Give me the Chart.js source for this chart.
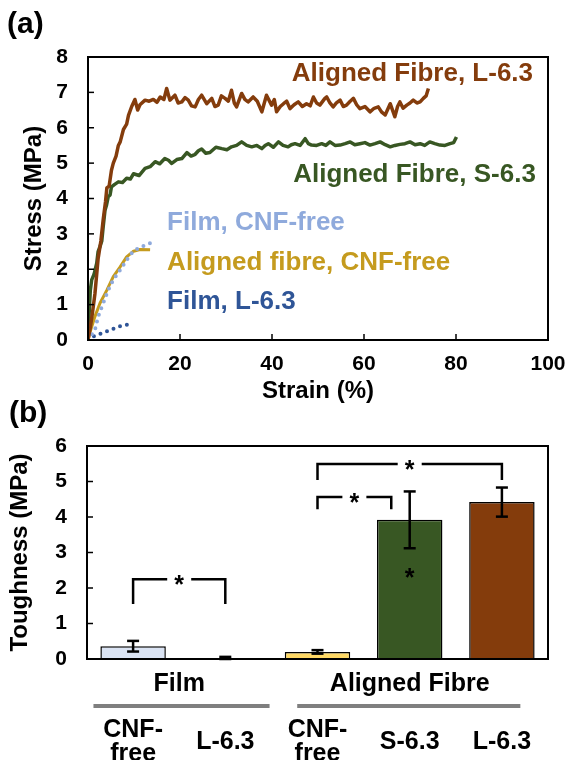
<!DOCTYPE html>
<html lang="en">
<head>
<meta charset="UTF-8">
<title>Stress-strain and toughness</title>
<script src="https://cdn.jsdelivr.net/npm/chart.js"></script>
<style>
    body { margin: 0; background: #fff; width: 569px; height: 760px; overflow: hidden; position: relative; font-family: 'Liberation Sans', Arial, sans-serif; }
    .panel { position: absolute; left: 0; width: 569px; }
    #boxA { top: 0; height: 410px; }
    #boxB { top: 380px; height: 380px; }
    .tag { position: absolute; font-weight: bold; font-size: 30px; line-height: 30px; }
</style>
</head>
<body>
<div class="panel" id="boxA"><canvas id="chartA"></canvas></div>
<div class="panel" id="boxB"><canvas id="chartB"></canvas></div>
<div class="tag" style="left:7px; top:8px;">(a)</div>
<div class="tag" style="left:9px; top:397px;">(b)</div>

<script>
// (a) stress-strain curves, strain in %, stress in MPa
const fibreL63Strain = [0, 0.5, 1.0, 1.5, 2.2, 2.8, 3.3, 3.8, 4.1, 4.6, 5.1, 5.5, 6.1, 6.6, 7.0, 7.7, 8.4, 8.8, 9.5, 10.2, 10.8, 11.3, 12.4, 13.3, 14.2, 15.0, 15.7, 16.5, 17.1, 17.8, 18.9, 19.6, 20.4, 21.1, 21.8, 22.5, 23.3, 24.0, 24.7, 25.8, 26.9, 27.6, 28.3, 29.0, 29.8, 30.5, 31.2, 31.8, 32.3, 33.4, 34.1, 34.8, 35.9, 36.8, 37.8, 38.8, 39.9, 40.5, 41.0, 41.8, 42.5, 43.2, 43.9, 44.8, 45.7, 46.6, 47.5, 48.3, 49.0, 49.7, 50.4, 51.5, 51.9, 52.6, 53.3, 54.0, 54.8, 55.5, 56.2, 57.0, 57.7, 58.4, 59.1, 60.2, 61.3, 62.2, 63.1, 63.8, 64.6, 65.7, 66.2, 66.7, 67.3, 67.8, 68.5, 69.3, 70.0, 70.7, 71.5, 72.2, 72.9, 73.5, 74.0];
const fibreL63Stress = [0, 0.35, 0.8, 1.3, 2.3, 2.8, 3.4, 3.9, 4.3, 4.35, 4.8, 5.0, 5.2, 5.5, 5.6, 5.95, 6.1, 6.35, 6.6, 6.8, 6.5, 6.65, 6.78, 6.75, 6.8, 6.72, 6.87, 6.8, 7.11, 6.78, 6.92, 6.7, 6.73, 6.85, 6.78, 6.62, 6.59, 6.8, 6.92, 6.68, 6.83, 6.6, 6.64, 6.9, 6.83, 6.75, 7.06, 6.7, 6.59, 6.97, 6.8, 6.73, 6.87, 6.75, 6.45, 6.92, 6.64, 6.8, 6.45, 6.6, 6.68, 6.75, 6.54, 6.65, 6.73, 6.6, 6.68, 6.62, 6.87, 6.7, 6.64, 6.83, 6.87, 6.7, 6.59, 6.7, 6.78, 6.6, 6.64, 6.75, 6.83, 6.65, 6.54, 6.6, 6.45, 6.55, 6.59, 6.45, 6.36, 6.68, 6.5, 6.31, 6.6, 6.73, 6.55, 6.64, 6.7, 6.78, 6.7, 6.73, 6.83, 6.9, 7.11];

const fibreS63Strain = [0, 0.3, 0.5, 0.8, 1.3, 1.9, 2.2, 2.6, 3.0, 3.3, 3.7, 4.0, 4.4, 4.8, 5.1, 5.8, 6.6, 7.5, 8.4, 9.2, 9.9, 11.1, 12.4, 13.5, 14.6, 15.6, 16.7, 17.5, 18.2, 19.3, 20.4, 21.5, 22.4, 23.3, 24.0, 24.7, 25.6, 26.5, 27.8, 29.1, 30.2, 31.2, 32.3, 33.4, 34.5, 35.6, 36.7, 37.8, 38.5, 39.2, 40.3, 41.4, 42.4, 43.5, 44.2, 45.0, 46.1, 47.2, 47.9, 48.6, 49.7, 50.8, 51.7, 52.6, 53.7, 54.8, 55.9, 57.0, 58.0, 59.1, 60.2, 61.3, 62.4, 63.5, 64.6, 65.7, 66.7, 67.8, 68.9, 70.0, 71.1, 72.2, 73.2, 74.3, 75.4, 76.5, 77.6, 78.7, 79.5, 80.1];
const fibreS63Stress = [0, 0.9, 1.4, 1.7, 1.85, 2.17, 2.5, 2.64, 2.8, 3.2, 3.67, 3.8, 4.05, 4.1, 4.33, 4.4, 4.47, 4.45, 4.57, 4.55, 4.7, 4.65, 4.85, 4.9, 5.04, 4.98, 5.13, 5.08, 4.99, 5.1, 5.13, 5.3, 5.2, 5.25, 5.35, 5.4, 5.28, 5.3, 5.45, 5.41, 5.38, 5.46, 5.5, 5.6, 5.5, 5.46, 5.5, 5.41, 5.5, 5.55, 5.45, 5.6, 5.5, 5.46, 5.52, 5.55, 5.5, 5.69, 5.55, 5.51, 5.5, 5.55, 5.5, 5.6, 5.5, 5.51, 5.55, 5.6, 5.52, 5.55, 5.58, 5.51, 5.55, 5.6, 5.52, 5.46, 5.5, 5.53, 5.55, 5.6, 5.52, 5.55, 5.5, 5.6, 5.55, 5.51, 5.5, 5.55, 5.58, 5.74];

const filmFreeStrain = [0, 1.5, 2.2, 3.3, 4.4, 5.5, 7.0, 8.4, 9.5, 10.6, 12.4, 13.8];
const filmFreeStress = [0, 0.28, 0.66, 1.04, 1.41, 1.7, 1.98, 2.26, 2.45, 2.57, 2.68, 2.75];

const fibreFreeStrain = [0, 0.4, 1.5, 2.6, 4.1, 5.5, 7.0, 8.4, 9.9, 11.3, 13.5];
const fibreFreeStress = [0, 0.2, 0.66, 1.04, 1.41, 1.79, 2.07, 2.35, 2.51, 2.56, 2.55];

const filmL63Strain = [0, 1.2, 3.0, 4.8, 6.6, 9.1];
const filmL63Stress = [0, 0.1, 0.19, 0.28, 0.38, 0.45];

const curveNames = ['Aligned Fibre, L-6.3', 'Aligned Fibre, S-6.3', 'Film, CNF-free', 'Aligned fibre, CNF-free', 'Film, L-6.3'];
// where each curve name sits, in strain / stress units
const nameStrain = [44.3, 44.6, 17.2, 17.2, 17.2];
const nameStress = [7.52, 4.66, 3.3, 2.18, 1.08];

// (b) toughness bars
const barLabels = [['CNF-', 'free'], 'L-6.3', ['CNF-', 'free'], 'S-6.3', 'L-6.3'];
const toughness = [0.36, 0.03, 0.2, 3.92, 4.42];
const toughnessErr = [0.15, 0.03, 0.05, 0.8, 0.41];
const groupNames = ['Film', 'Aligned Fibre'];
const groupFirst = [0, 2];
const groupLast = [1, 4];

// significance brackets: category span, top and leg end in MPa
const sigFrom = [0, 2, 2];
const sigTo = [1, 2.8, 4];
const sigTop = [2.25, 4.56, 5.49];
const sigLeg = [1.55, 4.22, 5.04];
const starAt = [3, 2.45]; // extra star inside S-6.3 bar

const FONT = "'Liberation Sans', Arial, sans-serif";
Chart.defaults.font.family = FONT;
Chart.defaults.color = '#000';

const colBrown = '#843c0c';
const colGreen = '#385723';
const colLightBlue = '#8faadc';
const colGold = '#c59b1e';
const colBlue = '#2f5597';

function pts(xs, ys) {
    return xs.map((x, i) => ({ x: x, y: ys[i] }));
}

function line(ctx, x1, y1, x2, y2) {
    ctx.beginPath();
    ctx.moveTo(x1, y1);
    ctx.lineTo(x2, y2);
    ctx.stroke();
}

// box around plot + inward tick marks
const framePlugin = {
    id: 'frame',
    afterDraw(chart) {
        const { ctx, chartArea: a, scales } = chart;
        ctx.save();
        ctx.strokeStyle = '#000';
        ctx.lineWidth = 1.5;
        scales.y.ticks.forEach(t => {
            const p = scales.y.getPixelForValue(t.value);
            line(ctx, a.left, p, a.left + 6, p);
        });
        if (scales.x.type === 'linear') {
            scales.x.ticks.forEach(t => {
                const p = scales.x.getPixelForValue(t.value);
                line(ctx, p, a.bottom, p, a.bottom - 6);
            });
        }
        ctx.lineWidth = 2;
        ctx.strokeRect(a.left, a.top, a.right - a.left, a.bottom - a.top);
        ctx.restore();
    }
};

const curveLabelPlugin = {
    id: 'curveLabels',
    afterDraw(chart) {
        const { ctx, scales } = chart;
        ctx.save();
        ctx.font = 'bold 26px ' + FONT;
        ctx.textAlign = 'left';
        ctx.textBaseline = 'middle';
        curveNames.forEach((name, i) => {
            ctx.fillStyle = chart.data.datasets[i].borderColor;
            ctx.fillText(name, scales.x.getPixelForValue(nameStrain[i]), scales.y.getPixelForValue(nameStress[i]));
        });
        ctx.restore();
    }
};

// keep the plot area fixed: no extra room for the outer tick labels
function fixX(h) {
    return function (s) { s.height = h; s.paddingLeft = 0; s.paddingRight = 0; };
}
function fixY(w) {
    return function (s) { s.width = w; s.paddingTop = 0; s.paddingBottom = 0; };
}

const chartA = new Chart(document.getElementById('chartA'), {
    type: 'line',
    data: {
        datasets: [
            { data: pts(fibreL63Strain, fibreL63Stress), borderColor: colBrown, borderWidth: 3.5 },
            { data: pts(fibreS63Strain, fibreS63Stress), borderColor: colGreen, borderWidth: 3.5 },
            { data: pts(filmFreeStrain, filmFreeStress), borderColor: colLightBlue, borderWidth: 4, borderDash: [0, 7], borderCapStyle: 'round' },
            { data: pts(fibreFreeStrain, fibreFreeStress), borderColor: colGold, borderWidth: 3 },
            { data: pts(filmL63Strain, filmL63Stress), borderColor: colBlue, borderWidth: 4, borderDash: [0, 7], borderCapStyle: 'round' }
        ]
    },
    options: {
        responsive: true,
        maintainAspectRatio: false,
        animation: false,
        layout: { padding: { left: 0, right: 21, top: 57, bottom: 0 } },
        elements: { point: { radius: 0 }, line: { tension: 0, borderJoinStyle: 'round' } },
        plugins: { legend: { display: false }, tooltip: { enabled: false } },
        scales: {
            x: {
                type: 'linear', min: 0, max: 100,
                grid: { display: false, drawTicks: false },
                border: { display: false },
                ticks: { stepSize: 20, padding: 12, font: { size: 21, weight: 'bold' }, maxRotation: 0 },
                title: { display: true, text: 'Strain (%)', font: { size: 24, weight: 'bold' }, padding: { top: 0, bottom: 4 } },
                afterFit: fixX(70)
            },
            y: {
                min: 0, max: 8,
                grid: { display: false, drawTicks: false },
                border: { display: false },
                ticks: { stepSize: 1, padding: 20, font: { size: 21, weight: 'bold' } },
                title: { display: true, text: 'Stress (MPa)', font: { size: 24, weight: 'bold' }, padding: { top: 20, bottom: 0 } },
                afterFit: fixY(88)
            }
        }
    },
    plugins: [framePlugin, curveLabelPlugin]
});

// error bars, brackets, stars and group labels for (b)
const extrasPlugin = {
    id: 'extras',
    afterDatasetsDraw(chart) {
        const { ctx, scales, chartArea: a } = chart;
        const x = scales.x, y = scales.y;
        ctx.save();
        ctx.strokeStyle = '#000';
        ctx.lineWidth = 2.5;
        toughness.forEach((v, i) => {
            const px = x.getPixelForValue(i);
            const hi = y.getPixelForValue(v + toughnessErr[i]);
            const lo = y.getPixelForValue(Math.max(0, v - toughnessErr[i]));
            line(ctx, px, hi, px, lo);
            line(ctx, px - 6, hi, px + 6, hi);
            line(ctx, px - 6, lo, px + 6, lo);
        });

        ctx.font = 'bold 25px ' + FONT;
        ctx.textAlign = 'center';
        ctx.textBaseline = 'alphabetic';
        ctx.fillStyle = '#000';
        const star = (px, py) => ctx.fillText('*', px, py + 14);
        sigFrom.forEach((f, i) => {
            const x1 = x.getPixelForValue(f), x2 = x.getPixelForValue(sigTo[i]);
            const yt = y.getPixelForValue(sigTop[i]), yl = y.getPixelForValue(sigLeg[i]);
            const xm = (x1 + x2) / 2;
            ctx.beginPath();
            ctx.moveTo(x1, yl); ctx.lineTo(x1, yt); ctx.lineTo(xm - 12, yt);
            ctx.moveTo(xm + 12, yt); ctx.lineTo(x2, yt); ctx.lineTo(x2, yl);
            ctx.stroke();
            star(xm, yt);
        });
        star(x.getPixelForValue(starAt[0]), y.getPixelForValue(starAt[1]));

        // group names with grey rules under the axis
        const ext = [[0.43, 0.48], [0.22, 0.2]];
        groupNames.forEach((name, i) => {
            const c1 = x.getPixelForValue(groupFirst[i]), c2 = x.getPixelForValue(groupLast[i]);
            ctx.textBaseline = 'middle';
            ctx.fillText(name, (c1 + c2) / 2, a.bottom + 25);
            ctx.strokeStyle = '#7f7f7f';
            ctx.lineWidth = 4;
            line(ctx, x.getPixelForValue(groupFirst[i] - ext[i][0]), a.bottom + 47,
                x.getPixelForValue(groupLast[i] + ext[i][1]), a.bottom + 47);
        });
        ctx.restore();
    }
};

const chartB = new Chart(document.getElementById('chartB'), {
    type: 'bar',
    data: {
        labels: barLabels,
        datasets: [{
            data: toughness,
            backgroundColor: ['#dae3f3', '#1f3864', '#ffd966', colGreen, colBrown],
            borderColor: '#000',
            borderWidth: 1.5,
            barPercentage: 0.71,
            categoryPercentage: 1
        }]
    },
    options: {
        responsive: true,
        maintainAspectRatio: false,
        animation: false,
        layout: { padding: { left: 0, right: 21, top: 66, bottom: 0 } },
        plugins: { legend: { display: false }, tooltip: { enabled: false } },
        scales: {
            x: {
                grid: { display: false, drawTicks: false },
                border: { display: false },
                ticks: { padding: 71, crossAlign: 'center', maxRotation: 0, autoSkip: false, font: { size: 25, weight: 'bold', lineHeight: 0.95 } },
                afterFit: fixX(101)
            },
            y: {
                min: 0, max: 6,
                grid: { display: false, drawTicks: false },
                border: { display: false },
                ticks: { stepSize: 1, padding: 20, font: { size: 21, weight: 'bold' } },
                title: { display: true, text: 'Toughness (MPa)', font: { size: 24, weight: 'bold' }, padding: { top: 6, bottom: 0 } },
                afterFit: fixY(87)
            }
        }
    },
    plugins: [framePlugin, extrasPlugin]
});
</script>
</body>
</html>
